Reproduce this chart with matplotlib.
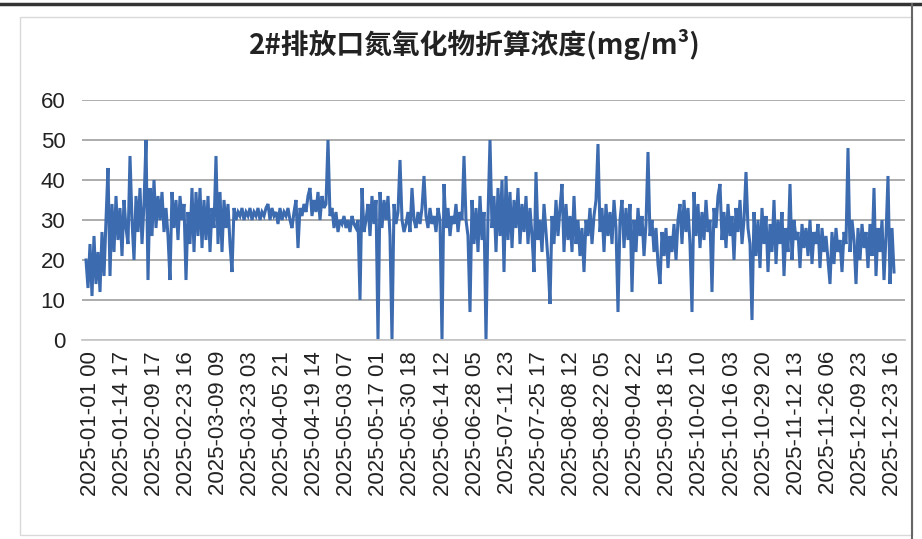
import matplotlib
matplotlib.use('Agg')

import matplotlib.pyplot as plt
from matplotlib.lines import Line2D
from matplotlib.patches import Rectangle
import numpy as np

plt.rcParams['font.family'] = ['Liberation Sans', 'Noto Sans CJK SC', 'DejaVu Sans']

title = '2#排放口氮氧化物折算浓度(mg/m³)'

tick_labels = [
    '2025-01-01 00', '2025-01-14 17', '2025-02-09 17', '2025-02-23 16',
    '2025-03-09 09', '2025-03-23 03', '2025-04-05 21', '2025-04-19 14',
    '2025-05-03 07', '2025-05-17 01', '2025-05-30 18', '2025-06-14 12',
    '2025-06-28 05', '2025-07-11 23', '2025-07-25 17', '2025-08-08 12',
    '2025-08-22 05', '2025-09-04 22', '2025-09-18 15', '2025-10-02 10',
    '2025-10-16 03', '2025-10-29 20', '2025-11-12 13', '2025-11-26 06',
    '2025-12-09 23', '2025-12-23 16',
]

nox = [
    20, 13, 24, 11, 26, 14, 22, 12, 27, 16,
    30, 43, 16, 34, 22, 36, 25, 33, 21, 35,
    28, 24, 46, 30, 20, 36, 27, 38, 24, 34,
    50, 15, 38, 26, 40, 28, 36, 30, 37, 27,
    33, 26, 15, 37, 28, 35, 25, 36, 30, 34,
    15, 32, 24, 38, 22, 37, 26, 38, 23, 35,
    25, 36, 22, 33, 28, 46, 24, 37, 22, 35,
    28, 34, 24, 17, 33, 30, 32, 31, 33, 30,
    32, 31, 33, 30, 32, 31, 33, 30, 32, 31,
    33, 34, 30, 33, 31, 32, 29, 33, 30, 32,
    31, 33, 30, 28, 32, 35, 23, 33, 31, 34,
    32, 36, 38, 31, 35, 32, 37, 30, 36, 33,
    34, 50, 31, 33, 28, 32, 27, 30, 29, 31,
    28, 30, 27, 31, 29, 28, 30, 10, 38, 27,
    30, 34, 26, 36, 29, 35, 0, 37, 28, 35,
    30, 36, 26, 0, 34, 29, 32, 45, 30, 27,
    29, 32, 27, 38, 30, 28, 32, 29, 33, 41,
    31, 28, 33, 29, 31, 27, 33, 30, 0, 39,
    28, 33, 26, 31, 29, 34, 27, 32, 30, 46,
    30, 26, 7, 35, 24, 33, 22, 36, 25, 32,
    0, 31, 50, 28, 36, 22, 38, 26, 40, 17,
    41, 25, 37, 23, 35, 28, 38, 24, 34, 27,
    36, 24, 33, 26, 17, 42, 25, 30, 22, 34,
    27, 20, 9, 31, 24, 35, 26, 33, 39, 22,
    34, 25, 31, 22, 36, 24, 30, 21, 28, 17,
    30, 26, 33, 24, 31, 35, 49, 27, 33, 22,
    34, 26, 32, 24, 35, 28, 7, 30, 35, 23,
    33, 25, 34, 12, 30, 22, 33, 26, 31, 21,
    29, 47, 26, 30, 22, 28, 19, 14, 27, 21,
    28, 18, 26, 22, 29, 20, 30, 34, 24, 35,
    27, 33, 24, 7, 37, 26, 34, 23, 32, 25,
    35, 27, 30, 12, 33, 28, 36, 39, 25, 32,
    23, 34, 26, 31, 20, 33, 27, 35, 24, 30,
    42, 28, 24, 5, 32, 21, 30, 18, 33, 24,
    31, 17, 29, 22, 35, 19, 30, 24, 32, 16,
    28, 22, 39, 20, 30, 25, 27, 18, 29, 23,
    28, 21, 30, 19, 27, 24, 29, 18, 28, 22,
    26, 20, 14, 27, 19, 28, 22, 25, 17, 27,
    24, 48, 22, 30, 25, 14, 28, 20, 29, 23,
    27, 18, 29, 21, 38, 16, 28, 22, 30, 15,
    26, 41, 14, 28, 17,
]

W, H = 922, 539
fig = plt.figure(figsize=(W / 100, H / 100), dpi=100)
fig.patch.set_facecolor('white')

# outer frame (table cell border + chart border)
fig.add_artist(Rectangle((20 / W, 1 - 535 / H), 892 / W, 518 / H, transform=fig.transFigure,
                         fill=False, edgecolor='#D9D9D9', linewidth=1.0))
fig.add_artist(Line2D([0, 1], [1 - 4 / H, 1 - 4 / H], transform=fig.transFigure,
                      color='#333333', linewidth=2.5))
fig.add_artist(Line2D([912 / W, 912 / W], [0, 1 - 4 / H], transform=fig.transFigure,
                      color='#666666', linewidth=1.5))

ax = fig.add_axes([82 / W, 1 - 340 / H, (905 - 82) / W, 240 / H])

x = np.arange(len(nox))
ax.plot(x, nox, color='#3D6BB0', linewidth=2.2, solid_joinstyle='miter')

ax.set_ylim(0, 60)
ax.set_yticks(range(0, 61, 10))
ax.set_xlim(-2, len(nox) + 4.5)
tick_pos = 2 + np.arange(len(tick_labels)) * 16.05
ax.set_xticks(tick_pos)
ax.set_xticklabels(tick_labels, rotation=90, fontsize=16, color='#222222')
ax.tick_params(axis='x', length=0, pad=8)
ax.tick_params(axis='y', length=0, pad=12, labelsize=16, labelcolor='#222222')

ax.grid(axis='y', color='#A6A6A6', linewidth=1.3)
ax.set_axisbelow(True)
for side in ['top', 'right', 'left']:
    ax.spines[side].set_visible(False)
ax.spines['bottom'].set_color('#C8C8C8')
ax.spines['bottom'].set_linewidth(1.3)

fig.text(475 / W, 1 - 45 / H, title, ha='center', va='center', fontsize=20,
         fontweight='bold', family=['Noto Sans CJK SC', 'DejaVu Sans'], color='#222222')

fig.savefig('out.png', dpi=100, facecolor='white')
plt.close(fig)
